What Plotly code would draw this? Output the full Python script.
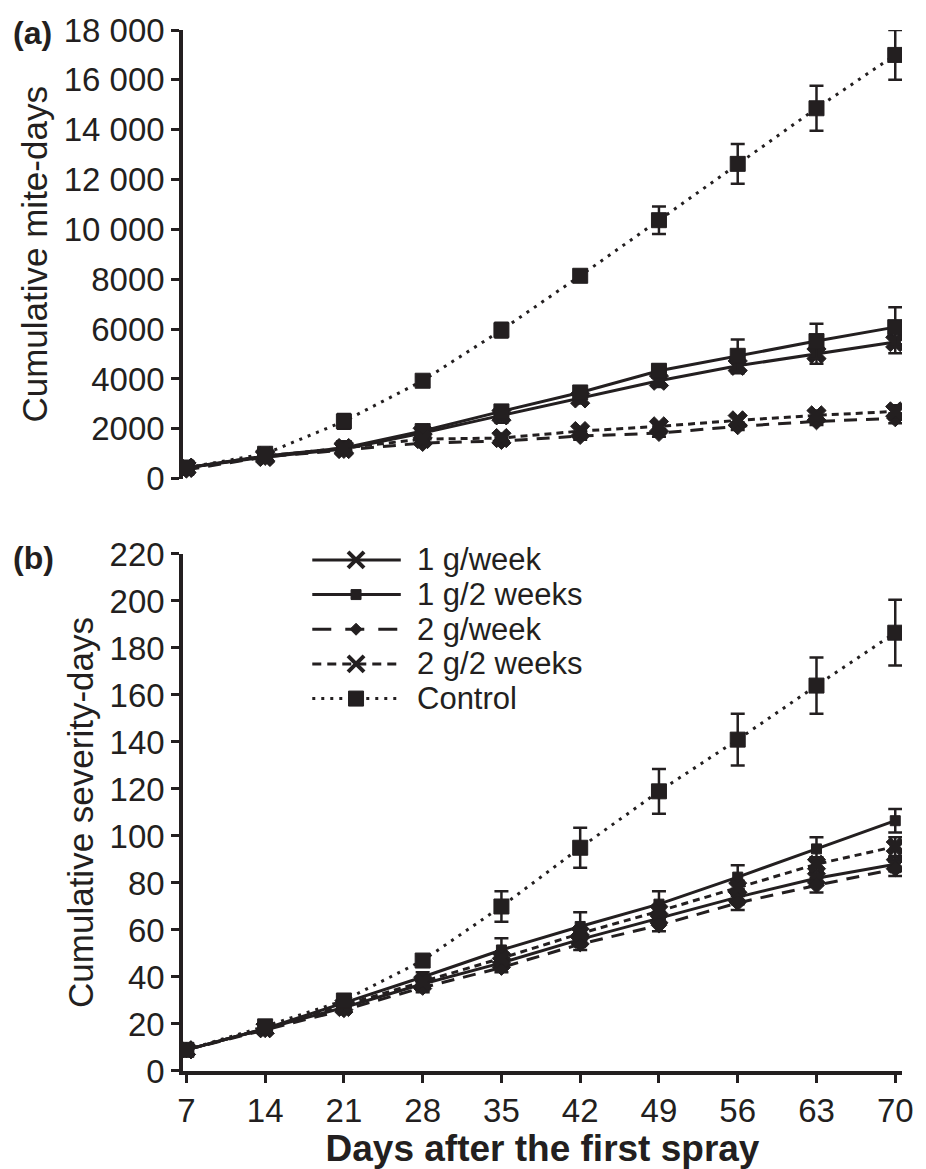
import plotly.graph_objects as go

# ---------------- data ----------------
days = [7, 14, 21, 28, 35, 42, 49, 56, 63, 70]
series_names = ["1 g/week", "1 g/2 weeks", "2 g/week", "2 g/2 weeks", "Control"]

# (a) cumulative mite-days
mite_1g_week = [440, 870, 1190, 1830, 2540, 3220, 3930, 4530, 5010, 5480]
mite_1g_2weeks = [440, 910, 1230, 1910, 2700, 3460, 4330, 4930, 5520, 6080]
mite_2g_week = [360, 870, 1150, 1430, 1510, 1710, 1830, 2100, 2300, 2420]
mite_2g_2weeks = [440, 910, 1230, 1590, 1630, 1910, 2100, 2340, 2540, 2700]
mite_control = [440, 1000, 2300, 3930, 5960, 8140, 10370, 12630, 14860, 17000]

mite_err_1g_week = [40, 80, 100, 150, 300, 200, 250, 300, 400, 450]
mite_err_1g_2weeks = [40, 80, 100, 150, 150, 150, 250, 650, 700, 800]
mite_err_2g_week = [30, 60, 80, 100, 120, 150, 150, 150, 150, 200]
mite_err_2g_2weeks = [30, 60, 80, 100, 120, 150, 150, 150, 200, 250]
mite_err_control = [40, 100, 300, 150, 300, 200, 550, 800, 900, 1000]

# (b) cumulative severity-days
sev_1g_week = [9, 18, 27, 37, 46, 56, 65, 74, 82, 88]
sev_1g_2weeks = [9, 18, 29, 40, 51.5, 61.5, 71, 82.5, 94.5, 106.5]
sev_2g_week = [9, 17.5, 26, 35.5, 44, 54, 62, 71.5, 79, 86]
sev_2g_2weeks = [9, 18, 28, 38, 48, 58.5, 68, 78, 88, 95.5]
sev_control = [9, 19, 30, 47, 70, 95, 119, 141, 164, 186.5]

sev_err_1g_week = [0.5, 1, 1, 2, 2, 2.5, 2.5, 3, 3, 3]
sev_err_1g_2weeks = [0.5, 1, 1.5, 2, 5, 6, 5.5, 5, 5, 5]
sev_err_2g_week = [0.5, 1, 1, 2, 2, 2.5, 2.5, 3, 3, 3]
sev_err_2g_2weeks = [0.5, 1, 1, 2, 2, 2.5, 2.5, 3, 3, 4]
sev_err_control = [0.5, 1, 1.5, 2, 6.5, 8.5, 9.5, 11, 12, 14]

mite_ticks = [0, 2000, 4000, 6000, 8000, 10000, 12000, 14000, 16000, 18000]
mite_ticktext = ["0", "2000", "4000", "6000", "8000", "10 000", "12 000",
                 "14 000", "16 000", "18 000"]
sev_ticks = [0, 20, 40, 60, 80, 100, 120, 140, 160, 180, 200, 220]

# ---------------- styles ----------------
INK = "#231f20"
FONT = "Liberation Sans, Arial, sans-serif"
W, H = 926, 1169
ML, MR, MT, MB = 183, 20, 28, 90
PW, PH = W - ML - MR, H - MT - MB

styles = [
    dict(dash="solid", legend_dash="solid", symbol="x", size_a=17, size_b=16),
    dict(dash="solid", legend_dash="solid", symbol="square", size_a=15, size_b=10),
    dict(dash="13px,9px", legend_dash="19px,14px", symbol="diamond", size_a=13, size_b=12),
    dict(dash="7px,5px", legend_dash="9px,6px", symbol="x", size_a=17, size_b=16),
    dict(dash="3px,6px", legend_dash="3px,6px", symbol="square", size_a=15, size_b=15),
]

mite_series = [mite_1g_week, mite_1g_2weeks, mite_2g_week, mite_2g_2weeks, mite_control]
mite_errs = [mite_err_1g_week, mite_err_1g_2weeks, mite_err_2g_week, mite_err_2g_2weeks, mite_err_control]
sev_series = [sev_1g_week, sev_1g_2weeks, sev_2g_week, sev_2g_2weeks, sev_control]
sev_errs = [sev_err_1g_week, sev_err_1g_2weeks, sev_err_2g_week, sev_err_2g_2weeks, sev_err_control]

fig = go.Figure()

for name, st, ys, es in zip(series_names, styles, mite_series, mite_errs):
    fig.add_trace(go.Scatter(
        x=days, y=ys, name=name, mode="lines+markers", showlegend=False,
        xaxis="x", yaxis="y",
        line=dict(color=INK, width=3, dash=st["dash"]),
        marker=dict(symbol=st["symbol"], size=st["size_a"], color=INK,
                    line=dict(color=INK, width=1)),
        error_y=dict(type="data", array=es, visible=True, color=INK,
                     thickness=2.5, width=7),
    ))

for name, st, ys, es in zip(series_names, styles, sev_series, sev_errs):
    fig.add_trace(go.Scatter(
        x=days, y=ys, name=name, mode="lines+markers", showlegend=False,
        xaxis="x2", yaxis="y2",
        line=dict(color=INK, width=3, dash=st["dash"]),
        marker=dict(symbol=st["symbol"], size=st["size_b"], color=INK,
                    line=dict(color=INK, width=1)),
        error_y=dict(type="data", array=es, visible=True, color=INK,
                     thickness=2.5, width=7),
    ))

# ---------------- manual legend (panel b) ----------------
def px_x(p):
    return (p - ML) / PW

def px_y(p):
    return (H - MB - p) / PH

legend_top, legend_step = 563, 35
sample_x0, sample_x1, sample_mid, text_x = 313, 402, 357, 416
shapes = []
annotations = []
for i, (name, st) in enumerate(zip(series_names, styles)):
    ry = legend_top + i * legend_step
    shapes.append(dict(type="line", xref="paper", yref="paper",
                       x0=px_x(sample_x0), x1=px_x(sample_x1),
                       y0=px_y(ry), y1=px_y(ry),
                       line=dict(color=INK, width=3, dash=st["legend_dash"])))
    common = dict(xref="paper", yref="paper", xsizemode="pixel", ysizemode="pixel",
                  xanchor=px_x(sample_mid), yanchor=px_y(ry))
    s = st["size_b"] / 2
    if st["symbol"] == "x":
        shapes.append(dict(type="path", path=f"M{-s},{-s}L{s},{s}M{-s},{s}L{s},{-s}",
                           line=dict(color=INK, width=4), **common))
    elif st["symbol"] == "square":
        shapes.append(dict(type="rect", x0=-s, x1=s, y0=-s, y1=s,
                           fillcolor=INK, line=dict(color=INK, width=1), **common))
    else:
        shapes.append(dict(type="path", path=f"M{-s},0L0,{s}L{s},0L0,{-s}Z",
                           fillcolor=INK, line=dict(color=INK, width=1), **common))
    annotations.append(dict(xref="paper", yref="paper", x=px_x(text_x), y=px_y(ry),
                            xanchor="left", yanchor="middle", showarrow=False,
                            text=name, font=dict(family=FONT, size=31, color=INK)))

annotations.append(dict(xref="paper", yref="paper", x=px_x(10), y=px_y(31),
                        xanchor="left", yanchor="middle", showarrow=False,
                        text="<b>(a)</b>", font=dict(family=FONT, size=32, color=INK)))
annotations.append(dict(xref="paper", yref="paper", x=px_x(10), y=px_y(561),
                        xanchor="left", yanchor="middle", showarrow=False,
                        text="<b>(b)</b>", font=dict(family=FONT, size=32, color=INK)))

axis_common = dict(showgrid=False, zeroline=False, showline=True, linecolor=INK,
                   linewidth=3.5, ticks="outside", ticklen=8, tickwidth=3,
                   tickcolor=INK, tickfont=dict(family=FONT, size=33, color=INK))

xr = [6.7, 70.6]
top_a = 1.0
bot_a = px_y(481)
top_b = px_y(557)

fig.update_layout(
    width=W, height=H,
    margin=dict(l=ML, r=MR, t=MT, b=MB),
    paper_bgcolor="white", plot_bgcolor="white",
    showlegend=False,
    font=dict(family=FONT, color=INK),
    xaxis=dict(domain=[0, 1], range=xr, anchor="y", visible=False),
    yaxis=dict(domain=[bot_a, top_a], range=[0, 18000], anchor="x",
               tickvals=mite_ticks, ticktext=mite_ticktext,
               title=dict(text="Cumulative mite-days", standoff=6,
                          font=dict(family=FONT, size=35, color=INK)),
               **axis_common),
    xaxis2=dict(domain=[0, 1], range=xr, anchor="y2", tickvals=days,
                title=dict(text="<b>Days after the first spray</b>", standoff=2,
                           font=dict(family=FONT, size=37, color=INK)),
                **axis_common),
    yaxis2=dict(domain=[0, top_b], range=[0, 220], anchor="x2", tickvals=sev_ticks,
                title=dict(text="Cumulative severity-days", standoff=6,
                           font=dict(family=FONT, size=35, color=INK)),
                **axis_common),
    shapes=shapes,
    annotations=annotations,
)

fig.write_html("out.html")
